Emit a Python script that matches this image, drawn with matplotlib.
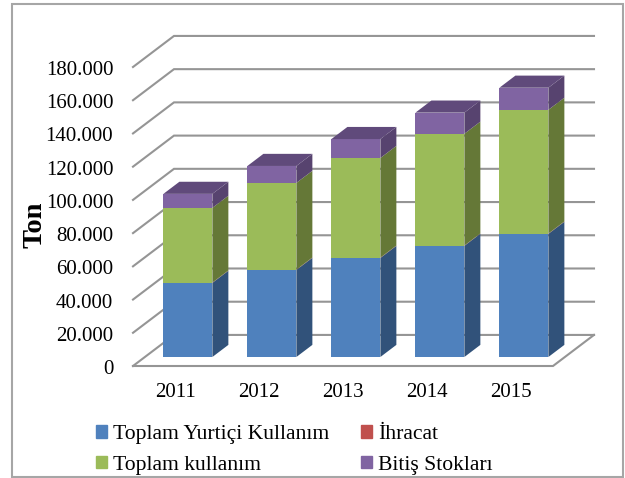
import matplotlib
matplotlib.use("Agg")
import matplotlib.pyplot as plt
from matplotlib.patches import Rectangle
from matplotlib.transforms import ScaledTranslation

plt.rcParams['font.family'] = ['Liberation Serif', 'DejaVu Serif']

# values (ton)
years = ['2011', '2012', '2013', '2014', '2015']
yurtici = [44600, 52400, 59600, 66900, 74100]
ihracat = [200, 200, 200, 200, 200]
kullanim = [45000, 52200, 60000, 67300, 74500]
stok = [8400, 10200, 11400, 12700, 13300]
y_ticks = [0, 20000, 40000, 60000, 80000, 100000, 120000, 140000, 160000, 180000]
y_labels = ['0', '20.000', '40.000', '60.000', '80.000', '100.000', '120.000', '140.000', '160.000', '180.000']

series = [
    ('Toplam Yurtiçi Kullanım', yurtici, '#4F81BD', '#31527A', '#3A6190'),
    ('İhracat', ihracat, '#C0504D', '#7D3230', '#943C3A'),
    ('Toplam kullanım', kullanim, '#9BBB59', '#657837', '#7A9243'),
    ('Bitiş Stokları', stok, '#8064A2', '#57436F', '#604A7B'),
]
legend_order = [0, 2, 1, 3]

# oblique depth of the chart box, in axis units
depth_x = 0.488
depth_y = 18700
bar_start = 0.29
bar_depth = 0.39
bar_w = 0.583
bar_shift = 0.012
grid_col = '#959595'

W, H = 625, 478
fig = plt.figure(figsize=(W / 100, H / 100), dpi=100)
ax = fig.add_axes([133 / W, (H - 366) / H, 420 / W, 299 / H])
ax.set_xlim(-0.5, 4.5)
ax.set_ylim(0, 180000)
for s in ax.spines.values():
    s.set_visible(False)

# outer frame
fig.add_artist(Rectangle((11.5 / W, 1 - 477 / H), 611.5 / W, 473 / H, transform=fig.transFigure,
                         fill=False, ec='#A6A6A6', lw=1.5))

# walls
for v in y_ticks:
    ax.plot([-0.5, -0.5 + depth_x, 4.5 + depth_x], [v, v + depth_y, v + depth_y],
            color=grid_col, lw=1.5, clip_on=False, zorder=1, solid_joinstyle='miter')
ax.plot([-0.5, 4.5, 4.5 + depth_x], [0, 0, depth_y], color=grid_col, lw=1.5,
        clip_on=False, zorder=1, solid_joinstyle='miter')

# bars, back faces first so the stack overlaps properly
dx0 = bar_start * depth_x + bar_shift
dy0 = bar_start * depth_y
dx1 = bar_depth * depth_x
dy1 = bar_depth * depth_y
for i in range(len(years)):
    base = 0
    xc = i + dx0
    left = xc - bar_w / 2
    right = xc + bar_w / 2
    for name, vals, col, side, top in series:
        v = vals[i]
        y0 = base + dy0
        y1 = y0 + v
        ax.fill([right, right + dx1, right + dx1, right], [y0, y0 + dy1, y1 + dy1, y1],
                color=side, lw=0, zorder=3, clip_on=False)
        ax.bar(xc, v, bar_w, bottom=y0, color=col, lw=0, zorder=3, clip_on=False)
        base += v
    y1 = base + dy0
    ax.fill([left, right, right + dx1, left + dx1], [y1, y1, y1 + dy1, y1 + dy1],
            color=series[-1][4], lw=0, zorder=3, clip_on=False)

ax.set_xticks(range(len(years)), years)
ax.set_yticks(y_ticks, y_labels)
ax.tick_params(axis='both', length=0, labelsize=15)
ax.tick_params(axis='y', pad=14.2)
ax.tick_params(axis='x', pad=12)
# labels sit a pixel lower in the original
nudge = ScaledTranslation(0, -1 / 100, fig.dpi_scale_trans)
for lab in ax.get_yticklabels():
    lab.set_transform(lab.get_transform() + nudge)

fig.text(35 / W, 1 - 225 / H, 'Ton', rotation=90, fontsize=20.5, fontweight='bold',
         ha='center', va='center')

handles = [Rectangle((0, 0), 1, 1, color=series[k][2]) for k in legend_order]
labels = [series[k][0] for k in legend_order]
fig.legend(handles, labels, ncol=2, frameon=False, fontsize=15.6,
           loc='center left', bbox_to_anchor=(96 / W, 1 - 450 / H),
           handlelength=0.5, handleheight=0.5, handletextpad=0.28,
           labelspacing=0.55, columnspacing=1.47, borderpad=0, borderaxespad=0)

fig.savefig('out.png', dpi=100, facecolor='white')
